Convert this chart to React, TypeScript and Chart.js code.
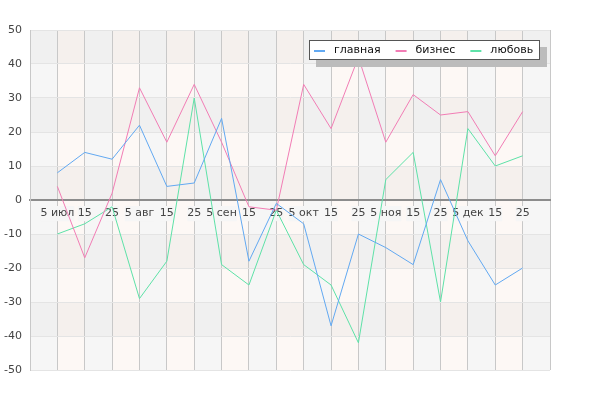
import React, { useEffect, useRef } from 'react';
import { Chart, registerables } from 'chart.js';

Chart.register(...registerables);

const xLabels = ['5 июл', '15', '25', '5 авг', '15', '25', '5 сен', '15', '25', '5 окт', '15', '25', '5 ноя', '15', '25', '5 дек', '15', '25'];
const seriesNames = ['главная', 'бизнес', 'любовь'];
const mainValues = [8, 14, 12, 22, 4, 5, 24, -18, -1, -7, -37, -10, -14, -19, 6, -12, -25, -20];
const businessValues = [4, -17, 2, 33, 17, 34, 17, -2, -3, 34, 21, 42, 17, 31, 25, 26, 13, 26];
const loveValues = [-10, -7, -2, -29, -18, 30, -19, -25, -3, -19, -25, -42, 6, 14, -30, 21, 10, 13];
const seriesColors = ['#62a9f2', '#f27db5', '#5ee2a8'];
const yMin = -50;
const yMax = 50;
const yStep = 10;

const FONT = 'DejaVu Sans';

const bandsPlugin = {
  id: 'bands',
  beforeDraw(chart: any) {
    const { ctx, scales } = chart;
    const x = scales.x;
    const y = scales.y;
    ctx.save();
    for (let v = yMin; v < yMax; v += yStep) {
      const dark = Math.abs(Math.round(v / yStep)) % 2 === 0;
      const top = y.getPixelForValue(v + yStep);
      const bot = y.getPixelForValue(v);
      for (let j = 0; j <= xLabels.length; j++) {
        const l = x.getPixelForValue(j);
        const r = x.getPixelForValue(j + 1);
        const tint = j % 2 === 1;
        ctx.fillStyle = tint ? (dark ? '#f5f0ed' : '#fdf8f5') : (dark ? '#f0f0f0' : '#f6f6f6');
        ctx.fillRect(l, top, r - l, bot - top);
      }
    }
    ctx.restore();
  },
};

const legendPlugin = {
  id: 'boxLegend',
  afterDraw(chart: any) {
    const { ctx, chartArea } = chart;
    const ds = chart.data.datasets;
    ctx.save();
    ctx.font = `11px "${FONT}"`;
    const padL = 5;
    const padR = 7;
    const marker = 11;
    const gapText = 9;
    const gapItem = 15;
    const widths = ds.map((d: any) => ctx.measureText(d.label).width);
    let w = padL + padR;
    widths.forEach((tw: number, i: number) => {
      w += marker + gapText + tw + (i < widths.length - 1 ? gapItem : 0);
    });
    w = Math.round(w);
    const h = 20;
    const right = chartArea.right - 10;
    const bx = right - w;
    const by = chartArea.top + 10;
    ctx.fillStyle = '#bcbcbc';
    ctx.fillRect(bx + 7, by + 7, w, h);
    ctx.fillStyle = '#ffffff';
    ctx.fillRect(bx, by, w, h);
    ctx.strokeStyle = '#555555';
    ctx.lineWidth = 1;
    ctx.strokeRect(bx + 0.5, by + 0.5, w - 1, h - 1);
    const mid = by + h / 2;
    let ix = bx + padL;
    ds.forEach((d: any, i: number) => {
      ctx.strokeStyle = d.borderColor;
      ctx.lineWidth = 2;
      ctx.beginPath();
      ctx.moveTo(ix, mid + 1);
      ctx.lineTo(ix + marker, mid + 1);
      ctx.stroke();
      ctx.fillStyle = '#111111';
      ctx.textBaseline = 'middle';
      ctx.textAlign = 'left';
      ctx.fillText(d.label, ix + marker + gapText, mid);
      ix += marker + gapText + widths[i] + gapItem;
    });
    ctx.restore();
  },
};

export default function App() {
  const ref = useRef<HTMLCanvasElement | null>(null);

  useEffect(() => {
    if (!ref.current) return;
    const allValues = [mainValues, businessValues, loveValues];
    const chart = new Chart(ref.current, {
      type: 'line',
      data: {
        datasets: allValues.map((vals, k) => ({
          label: seriesNames[k],
          data: vals.map((v, i) => ({ x: i + 1, y: v })),
          borderColor: seriesColors[k],
          backgroundColor: seriesColors[k],
          borderWidth: 1,
          pointRadius: 0,
          tension: 0,
          fill: false,
        })),
      },
      options: {
        responsive: false,
        animation: false,
        events: [],
        layout: { padding: { left: 0, top: 30, right: 50, bottom: 30 } },
        plugins: { legend: { display: false }, tooltip: { enabled: false } },
        scales: {
          x: {
            type: 'linear',
            min: 0,
            max: xLabels.length + 1,
            position: { y: 0 } as any,
            grid: { color: '#c8c8c8', lineWidth: 1, drawTicks: false },
            border: { color: '#8c8c8c', width: 2 },
            ticks: {
              stepSize: 1,
              autoSkip: false,
              maxRotation: 0,
              padding: 7,
              color: '#444444',
              font: { family: FONT, size: 11 },
              showLabelBackdrop: true,
              backdropColor: '#f6f6f6',
              backdropPadding: { x: 0, y: 1 },
              callback: (v: any) => xLabels[Number(v) - 1] ?? '',
            } as any,
          },
          y: {
            type: 'linear',
            min: yMin,
            max: yMax,
            grid: {
              drawTicks: false,
              color: (c: any) => (c.tick && c.tick.value === 0 ? 'rgba(0,0,0,0)' : '#e4e4e4'),
            },
            border: { color: '#c8c8c8' },
            ticks: {
              stepSize: yStep,
              padding: 8,
              color: '#444444',
              font: { family: FONT, size: 11 },
            },
            afterFit: (s: any) => {
              s.width = 30;
            },
          },
        },
      },
      plugins: [bandsPlugin, legendPlugin],
    });
    return () => chart.destroy();
  }, []);

  return (
    <div style={{ position: 'absolute', left: 0, top: 0, width: 600, height: 400, background: '#fff' }}>
      <canvas ref={ref} width={600} height={400} style={{ display: 'block' }} />
    </div>
  );
}
